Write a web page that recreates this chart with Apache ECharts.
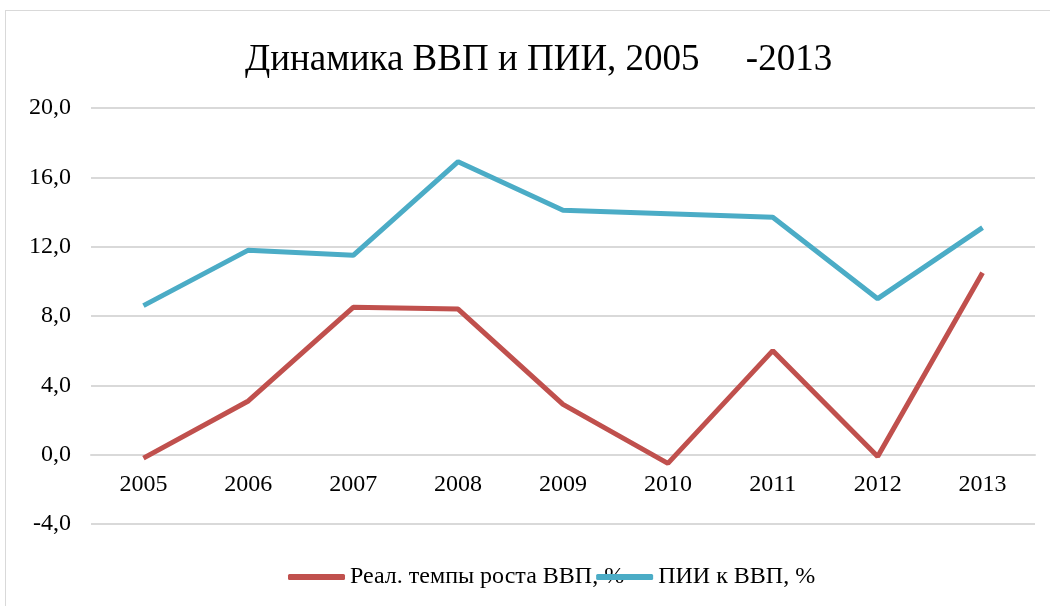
<!DOCTYPE html>
<html>
<head>
<meta charset="utf-8">
<script src="https://cdn.jsdelivr.net/npm/echarts@6/dist/echarts.min.js"></script>
<style>
  html, body { margin: 0; padding: 0; background: #fff; }
  #frame { position: absolute; left: 5px; top: 10px; width: 1060px; height: 620px; border: 1px solid #d9d9d9; }
  #chart { position: absolute; left: 0; top: 0; width: 1050px; height: 606px; }
</style>
</head>
<body>
<div id="frame"></div>
<div id="chart"></div>
<script>
// годы и значения
const years = ['2005', '2006', '2007', '2008', '2009', '2010', '2011', '2012', '2013']
const gdpGrowth = [-0.2, 3.1, 8.5, 8.4, 2.9, -0.5, 6.0, -0.1, 10.5]
const fdiToGdp = [8.6, 11.8, 11.5, 16.9, 14.1, 13.9, 13.7, 9.0, 13.1]
const seriesNames = ['Реал. темпы роста ВВП, %', 'ПИИ к ВВП, %']

const myChart = echarts.init(document.getElementById('chart'))
myChart.setOption({
  animation: false,
  textStyle: { fontFamily: 'Liberation Serif' },
  title: {
    text: 'Динамика ВВП и ПИИ, 2005     -2013',
    left: 245,
    top: 42,
    padding: 0,
    textStyle: { fontFamily: 'Liberation Serif', fontSize: 37, fontWeight: 'normal', color: '#000' }
  },
  legend: {
    bottom: 12,
    left: 283,
    itemWidth: 57,
    itemHeight: 6,
    itemGap: -28,
    icon: 'roundRect',
    textStyle: { fontFamily: 'Liberation Serif', fontSize: 24, color: '#000' },
    data: seriesNames
  },
  grid: { left: 91, right: 15, top: 108, bottom: 82 },
  xAxis: {
    type: 'category',
    data: years,
    boundaryGap: true,
    offset: -69,
    axisLine: { show: true, onZero: false, lineStyle: { color: '#d9d9d9', width: 2 } },
    axisTick: { show: false },
    axisLabel: { color: '#000', fontSize: 24, margin: 18 }
  },
  yAxis: {
    type: 'value',
    min: -4,
    max: 20,
    interval: 4,
    axisLine: { show: false },
    axisTick: { show: false },
    axisLabel: {
      color: '#000',
      fontSize: 24,
      margin: 20,
      formatter: v => v.toFixed(1).replace('.', ',')
    },
    splitLine: { lineStyle: { color: '#d9d9d9', width: 2 } }
  },
  series: [
    {
      name: seriesNames[0],
      type: 'line',
      data: gdpGrowth,
      showSymbol: false,
      lineStyle: { color: '#C0504D', width: 5 },
      itemStyle: { color: '#C0504D' }
    },
    {
      name: seriesNames[1],
      type: 'line',
      data: fdiToGdp,
      showSymbol: false,
      lineStyle: { color: '#4BACC6', width: 5 },
      itemStyle: { color: '#4BACC6' }
    }
  ]
})
</script>
</body>
</html>
